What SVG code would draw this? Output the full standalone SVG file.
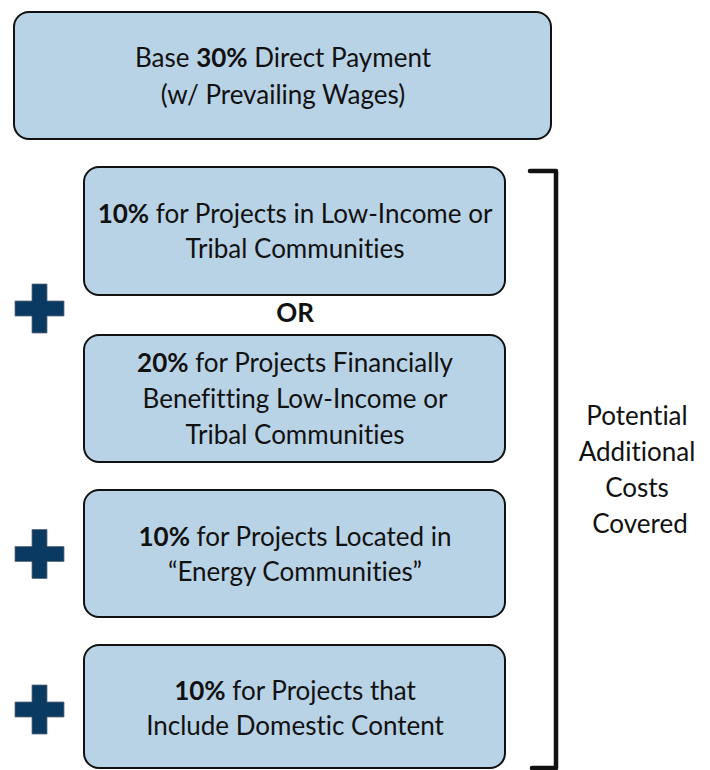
<svg xmlns="http://www.w3.org/2000/svg" width="710" height="770" viewBox="0 0 710 770">
  <style>
    .box { fill: #b9d3e6; stroke: #111; stroke-width: 2; }
    .t { font-family: Lato, "Liberation Sans", sans-serif; font-size: 26px; fill: #111; text-anchor: middle; font-variant-ligatures: none; }
    .b { font-weight: bold; }
    .plus { fill: #0a3a62; stroke: #5a6b7a; stroke-width: 0.8; }
    .brace { fill: none; stroke: #111; stroke-width: 4.5; stroke-linejoin: round; stroke-linecap: round; }
  </style>
  <defs>
    <path id="plus" d="M-7.5,-24.5 h15 v17 h17 v15 h-17 v17 h-15 v-17 h-17 v-15 h17 z"/>
  </defs>
  <rect width="710" height="770" fill="#fff"/>

  <g id="base">
    <rect class="box" x="14" y="12" width="537" height="127" rx="15"/>
    <text class="t" x="283" y="67">Base <tspan class="b">30%</tspan> Direct Payment</text>
    <text class="t" x="283" y="104">(w/ Prevailing Wages)</text>
  </g>

  <g id="low-income">
    <rect class="box" x="84" y="167" width="421" height="128" rx="15"/>
    <text class="t" x="295" y="223"><tspan class="b">10%</tspan> for Projects in Low-Income or</text>
    <text class="t" x="295" y="258">Tribal Communities</text>
  </g>

  <g id="or">
    <text class="t b" x="295" y="322">OR</text>
  </g>

  <g id="benefitting">
    <rect class="box" x="84" y="335" width="421" height="127" rx="15"/>
    <text class="t" x="295" y="372"><tspan class="b">20%</tspan> for Projects Financially</text>
    <text class="t" x="295" y="408">Benefitting Low-Income or</text>
    <text class="t" x="295" y="444">Tribal Communities</text>
  </g>

  <g id="energy">
    <rect class="box" x="84" y="490" width="421" height="127" rx="15"/>
    <text class="t" x="295" y="546"><tspan class="b">10%</tspan> for Projects Located in</text>
    <text class="t" x="295" y="581">“Energy Communities”</text>
  </g>

  <g id="domestic">
    <rect class="box" x="84" y="645" width="421" height="123" rx="15"/>
    <text class="t" x="295" y="700"><tspan class="b">10%</tspan> for Projects that</text>
    <text class="t" x="295" y="735">Include Domestic Content</text>
  </g>

  <g id="plus-signs">
    <use href="#plus" class="plus" x="39.5" y="308.5"/>
    <use href="#plus" class="plus" x="39.5" y="554"/>
    <use href="#plus" class="plus" x="39.5" y="709.5"/>
  </g>

  <g id="connectors">
    <path class="brace" d="M530,171 H556 V768 H532"/>
  </g>

  <g id="label">
    <text class="t" x="637" y="425">Potential</text>
    <text class="t" x="637" y="461">Additional</text>
    <text class="t" x="637" y="497">Costs</text>
    <text class="t" x="640" y="533">Covered</text>
  </g>
</svg>
